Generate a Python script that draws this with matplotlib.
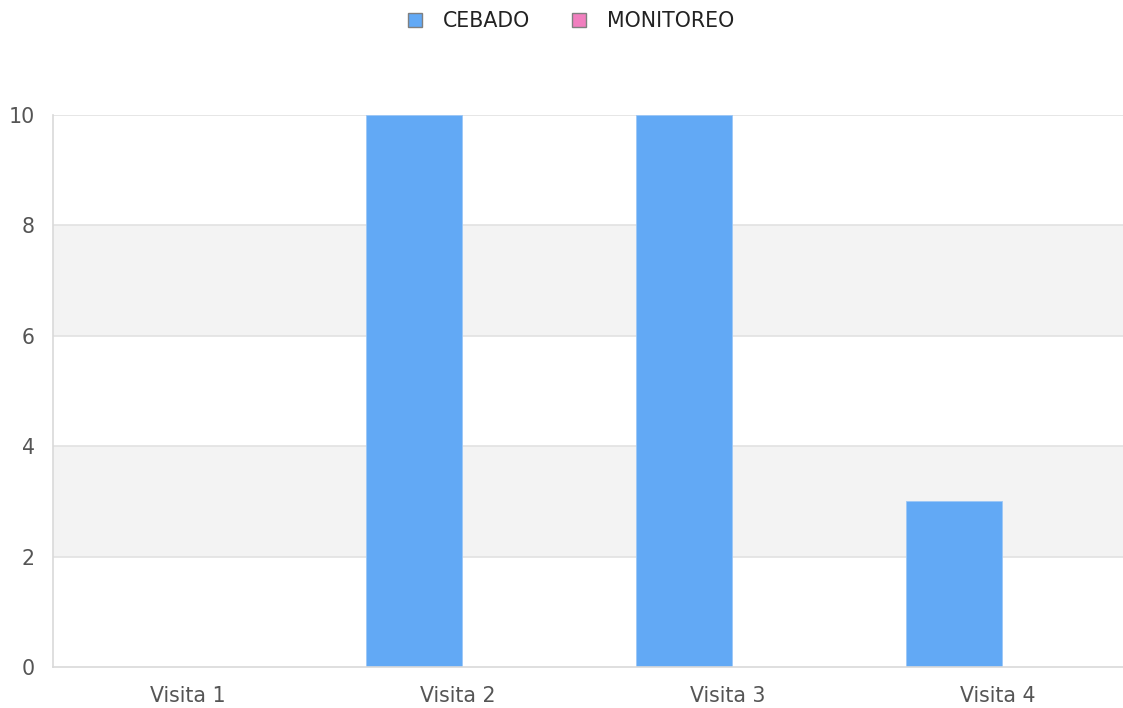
import matplotlib
matplotlib.use("Agg")
import matplotlib.pyplot as plt
from matplotlib.patches import Patch
import numpy as np

# chart data
categorias = ["Visita 1", "Visita 2", "Visita 3", "Visita 4"]
cebado = [0, 10, 10, 3]
monitoreo = [0, 0, 0, 0]
series_names = ["CEBADO", "MONITOREO"]
y_ticks = [0, 2, 4, 6, 8, 10]

# styling
color_cebado = "#62a9f5"
color_monitoreo = "#f17fbf"
grid_color = "#e2e2e2"
band_color = "#f3f3f3"
text_grey = "#555555"
font_size = 14.8

plt.rcParams['font.family'] = ['DejaVu Sans']

W, H = 1123, 708
fig = plt.figure(figsize=(W / 100, H / 100), dpi=100)
# axes stretches slightly past the right edge, like the original
ax = fig.add_axes([53 / W, 1 - 667 / H, 1080 / W, (667 - 115) / H])

x = np.arange(len(categorias))
bar_w = 0.356
shift = 0.015

# alternating bands between gridlines
for lo in range(2, 10, 4):
    ax.axhspan(lo, lo + 2, color=band_color, zorder=0, lw=0)
for yv in y_ticks[1:]:
    ax.axhline(yv, color=grid_color, lw=1.2, zorder=1)

ax.bar(x - bar_w / 2 + shift, cebado, width=bar_w, color=color_cebado,
       edgecolor="#9cc8f7", linewidth=0.6, zorder=2)
ax.bar(x + bar_w / 2 + shift, monitoreo, width=bar_w, color=color_monitoreo,
       linewidth=0, zorder=2)

ax.set_xlim(-0.5, len(categorias) - 0.5)
ax.set_ylim(0, 10)
ax.set_xticks(x)
ax.set_xticklabels(categorias)
ax.set_yticks(y_ticks)
ax.tick_params(axis="both", length=0, labelsize=font_size, colors=text_grey)
ax.tick_params(axis="y", pad=13)
ax.tick_params(axis="x", pad=14)

for side in ["top", "right"]:
    ax.spines[side].set_visible(False)
for side in ["left", "bottom"]:
    ax.spines[side].set_color("#d9d9d9")
    ax.spines[side].set_linewidth(1.2)

handles = [Patch(facecolor=color_cebado, edgecolor="#808080", lw=1),
           Patch(facecolor=color_monitoreo, edgecolor="#808080", lw=1)]
fig.legend(handles, series_names, loc="center", bbox_to_anchor=(571 / W, 1 - 21 / H),
           ncol=2, frameon=False, fontsize=font_size, handlelength=0.68,
           handleheight=0.68, handletextpad=1.05, columnspacing=2.0,
           labelcolor="#222222")

fig.savefig("out.png", dpi=100)
